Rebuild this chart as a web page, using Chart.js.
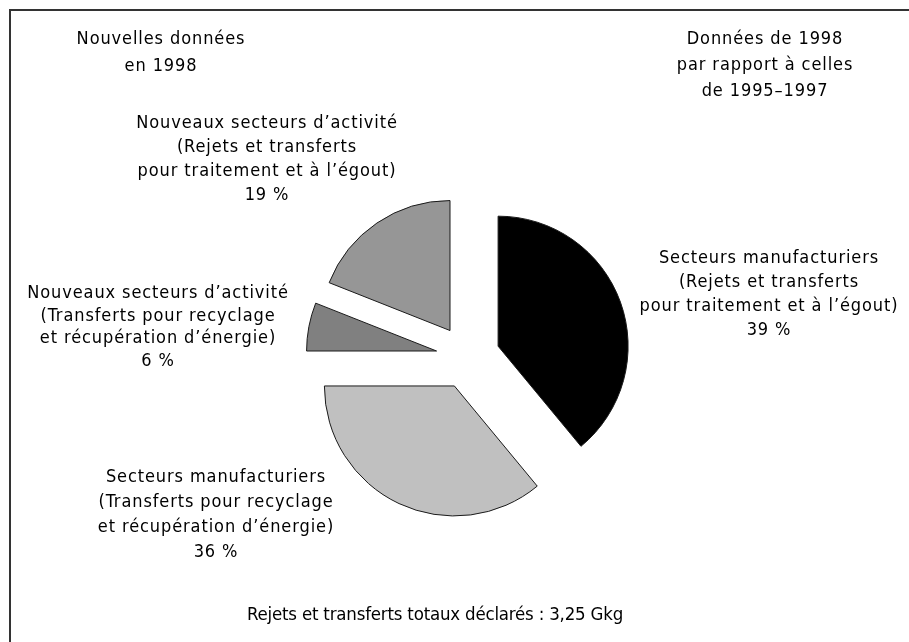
<!DOCTYPE html>
<html lang="fr">
<head>
<meta charset="utf-8">
<script src="https://cdn.jsdelivr.net/npm/chart.js@4.4.1/dist/chart.umd.min.js"></script>
<style>
  html, body { margin: 0; padding: 0; background: #fff; }
  canvas { display: block; }
</style>
</head>
<body>
<canvas id="chartCanvas" width="909" height="642"></canvas>
<script>
// Parts des rejets et transferts (%), dans le sens horaire depuis midi
const categories = [
  ['Secteurs manufacturiers', '(Rejets et transferts', 'pour traitement et à l’égout)'],
  ['Secteurs manufacturiers', '(Transferts pour recyclage', 'et récupération d’énergie)'],
  ['Nouveaux secteurs d’activité', '(Transferts pour recyclage', 'et récupération d’énergie)'],
  ['Nouveaux secteurs d’activité', '(Rejets et transferts', 'pour traitement et à l’égout)']
];
const values = [39, 36, 6, 19];
const sliceColors = ['#000000', '#c0c0c0', '#808080', '#969696'];
const headerLeft = ['Nouvelles données', 'en 1998'];
const headerRight = ['Données de 1998', 'par rapport à celles', 'de 1995–1997'];
const footerText = 'Rejets et transferts totaux déclarés : 3,25 Gkg';

const FONT = '"DejaVu Sans Condensed", "Liberation Sans", sans-serif';

// les parts sont écartées du centre
const explode = {
  id: 'explode',
  afterDatasetsUpdate(chart) {
    chart.getDatasetMeta(0).data.forEach(arc => {
      const mid = (arc.startAngle + arc.endAngle) / 2;
      arc.x += Math.cos(mid) * 32;
      arc.y += Math.sin(mid) * 32;
    });
  }
};

function lines(ctx, arr, x, y, step) {
  arr.forEach((t, i) => ctx.fillText(t, x, y + i * step));
}

// cadre, en-têtes, étiquettes et total
const texts = {
  id: 'texts',
  beforeDraw(chart) {
    const ctx = chart.ctx;
    ctx.save();
    ctx.fillStyle = '#333';
    ctx.fillRect(9, 9, 900, 2);
    ctx.fillRect(9, 9, 2, 633);
    ctx.restore();
  },
  afterDraw(chart) {
    const ctx = chart.ctx;
    const pos = [[769, 263, 24], [216, 482, 25], [158, 298, 22.5], [267, 128, 24]];
    ctx.save();
    ctx.fillStyle = '#000';
    ctx.textAlign = 'center';
    ctx.textBaseline = 'alphabetic';
    ctx.font = '18px ' + FONT;
    ctx.letterSpacing = '0.9px';
    lines(ctx, headerLeft, 161, 44, 27);
    lines(ctx, headerRight, 765, 44, 26);
    categories.forEach((lab, i) => {
      lines(ctx, lab.concat(values[i] + ' %'), pos[i][0], pos[i][1], pos[i][2]);
    });
    ctx.letterSpacing = '-0.2px';
    ctx.font = '18.5px ' + FONT;
    ctx.fillText(footerText, 435, 620);
    ctx.restore();
  }
};

new Chart(document.getElementById('chartCanvas'), {
  type: 'pie',
  data: {
    labels: categories,
    datasets: [{
      data: values,
      backgroundColor: sliceColors,
      borderColor: '#1a1a1a',
      borderWidth: 1,
      radius: 130
    }]
  },
  options: {
    responsive: false,
    animation: false,
    events: [],
    layout: { padding: { left: 27, top: 72, right: 0, bottom: 0 } },
    plugins: {
      legend: { display: false },
      tooltip: { enabled: false }
    }
  },
  plugins: [explode, texts]
});
</script>
</body>
</html>
